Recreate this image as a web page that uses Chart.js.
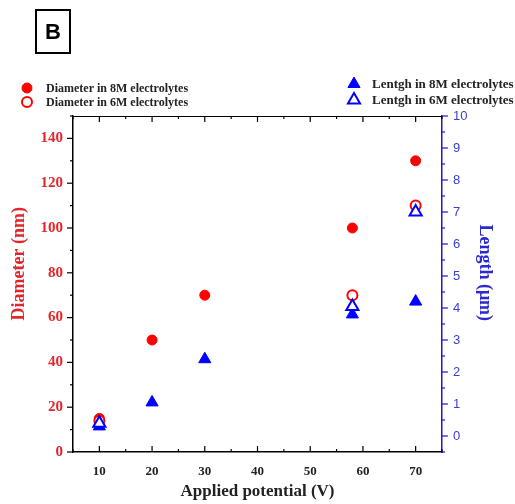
<!DOCTYPE html>
<html>
<head>
<meta charset="utf-8">
<script src="https://cdn.jsdelivr.net/npm/chart.js@4.4.1/dist/chart.umd.min.js"></script>
<style>
body{margin:0;background:#fff;}
#wrap{position:relative;width:515px;height:504px;}
#tag{position:absolute;left:35px;top:9px;width:32px;height:41px;border:2px solid #000;
 font:bold 22px "Liberation Sans",Arial,sans-serif;text-align:center;line-height:41px;}
</style>
</head>
<body>
<div id="wrap"><canvas id="myChart"></canvas><div id="tag">B</div></div>
<script>
// values
var potential8 = [10, 20, 30, 58, 70];
var diameter8 = [15, 50, 70, 100, 130];
var length8 = [0.3, 1.05, 2.4, 3.8, 4.2];
var potential6 = [10, 58, 70];
var diameter6 = [14, 70, 110];
var length6 = [0.4, 4.05, 7.0];

var xTicks = [10, 20, 30, 40, 50, 60, 70];
var diaTicks = [0, 20, 40, 60, 80, 100, 120, 140];
var lenTicks = [0, 1, 2, 3, 4, 5, 6, 7, 8, 9, 10];

var serif = '"Liberation Serif","Times New Roman",serif';
var sans = '"Liberation Sans",Arial,sans-serif';
var red = '#ff0000', blue = '#0000ff';

function pts(xs, ys) {
  return xs.map(function (x, i) { return {x: x, y: ys[i]}; });
}

// little legends drawn from the datasets, two groups
var legendBoxes = {
  id: 'legendBoxes',
  afterDraw: function (c) {
    var ctx = c.ctx;
    // x marker, y, x text, font size
    var spots = [[27, 88, 46, 12], [27, 102, 46, 12], [354, 84, 372, 13], [354, 100, 372, 13]];
    ctx.save();
    c.data.datasets.forEach(function (d, i) {
      var s = spots[d.legendSlot];
      ctx.fillStyle = d.backgroundColor;
      ctx.strokeStyle = d.borderColor;
      ctx.lineWidth = d.borderWidth;
      Chart.helpers.drawPoint(ctx, {pointStyle: d.pointStyle, radius: d.pointRadius, rotation: 0, borderWidth: d.borderWidth}, s[0], s[1]);
      ctx.fillStyle = '#222';
      ctx.font = 'bold ' + s[3] + 'px ' + serif;
      ctx.textBaseline = 'middle';
      ctx.textAlign = 'left';
      ctx.fillText(d.label, s[2], s[1] + 1);
    });
    ctx.restore();
  }
};

// top frame line + tick marks (major and minor)
var frame = {
  id: 'frame',
  afterDraw: function (c) {
    var ctx = c.ctx, a = c.chartArea, x = c.scales.x, y = c.scales.y, y1 = c.scales.y1;
    ctx.save();
    ctx.strokeStyle = '#000';
    ctx.lineWidth = 1;
    ctx.beginPath();
    ctx.moveTo(a.left, a.top + 0.5); ctx.lineTo(a.right, a.top + 0.5);
    ctx.stroke();
    ctx.lineWidth = 1.2;
    for (var v = 5; v <= 75; v += 5) {
      var px = x.getPixelForValue(v), len = v % 10 === 0 ? 6 : 3;
      ctx.beginPath();
      ctx.moveTo(px, a.top); ctx.lineTo(px, a.top + len);
      ctx.moveTo(px, a.bottom); ctx.lineTo(px, a.bottom - len);
      ctx.stroke();
    }
    for (var w = 0; w <= 150; w += 10) {
      var py = y.getPixelForValue(w), l2 = w % 20 === 0 ? 6 : 3;
      ctx.beginPath();
      ctx.moveTo(a.left, py); ctx.lineTo(a.left - l2, py);
      ctx.stroke();
    }
    ctx.strokeStyle = '#1a1ad0';
    for (var k = -0.5; k <= 10; k += 0.5) {
      var qy = y1.getPixelForValue(k), l3 = Math.abs(k % 1) < 0.01 ? 6 : 3;
      ctx.beginPath();
      ctx.moveTo(a.right, qy); ctx.lineTo(a.right + l3, qy);
      ctx.stroke();
    }
    ctx.restore();
  }
};

new Chart('myChart', {
  type: 'scatter',
  data: {
    datasets: [
      {label: 'Lentgh in 6M electrolytes', legendSlot: 3, yAxisID: 'y1', data: pts(potential6, length6),
       pointStyle: 'triangle', pointRadius: 7, borderWidth: 2, borderColor: blue, backgroundColor: '#fff', order: 1},
      {label: 'Lentgh in 8M electrolytes', legendSlot: 2, yAxisID: 'y1', data: pts(potential8, length8),
       pointStyle: 'triangle', pointRadius: 7, borderWidth: 1, borderColor: blue, backgroundColor: blue, order: 2},
      {label: 'Diameter in 6M electrolytes', legendSlot: 1, yAxisID: 'y', data: pts(potential6, diameter6),
       pointStyle: 'circle', pointRadius: 5, borderWidth: 2, borderColor: red, backgroundColor: '#fff', order: 3},
      {label: 'Diameter in 8M electrolytes', legendSlot: 0, yAxisID: 'y', data: pts(potential8, diameter8),
       pointStyle: 'circle', pointRadius: 5, borderWidth: 1, borderColor: red, backgroundColor: red, order: 4}
    ]
  },
  options: {
    responsive: true,
    maintainAspectRatio: false,
    animation: false,
    layout: {padding: {top: 116, left: 0, right: 0, bottom: 0}},
    plugins: {legend: {display: false}, tooltip: {enabled: false}},
    elements: {point: {hoverRadius: 5}},
    scales: {
      x: {
        type: 'linear', min: 5, max: 75,
        afterBuildTicks: function (s) { s.ticks = xTicks.map(function (v) { return {value: v}; }); },
        afterFit: function (s) { s.height = 52; },
        grid: {display: false, drawTicks: false},
        border: {display: true, color: '#000', width: 1.5},
        ticks: {padding: 12, color: '#222', font: {family: serif, size: 13, weight: 'bold'}},
        title: {display: true, text: 'Applied potential (V)', color: '#222', padding: {top: 0, bottom: 2},
          font: {family: serif, size: 17, weight: 'bold'}}
      },
      y: {
        type: 'linear', position: 'left', min: 0, max: 150,
        afterBuildTicks: function (s) { s.ticks = diaTicks.map(function (v) { return {value: v}; }); },
        afterFit: function (s) { s.width = 73; },
        grid: {display: false, drawTicks: false},
        border: {display: true, color: '#000', width: 1.5},
        ticks: {padding: 10, color: '#e3262c', font: {family: serif, size: 15, weight: 'bold'}},
        title: {display: true, text: '         Diameter (nm)', color: '#e3262c', padding: {top: 9, bottom: 0},
          font: {family: serif, size: 18, weight: 'bold'}}
      },
      y1: {
        type: 'linear', position: 'right', min: -0.5, max: 10,
        afterBuildTicks: function (s) { s.ticks = lenTicks.map(function (v) { return {value: v}; }); },
        afterFit: function (s) { s.width = 73; },
        grid: {display: false, drawTicks: false},
        border: {display: true, color: '#1a1ad0', width: 1.5},
        ticks: {padding: 11, color: '#3b3bd6', font: {family: sans, size: 13}},
        title: {display: true, text: 'Length (\u03bcm)     ', color: '#2a2ad0', padding: {top: 20, bottom: 0},
          font: {family: serif, size: 18, weight: 'bold'}}
      }
    }
  },
  plugins: [frame, legendBoxes]
});
</script>
</body>
</html>
